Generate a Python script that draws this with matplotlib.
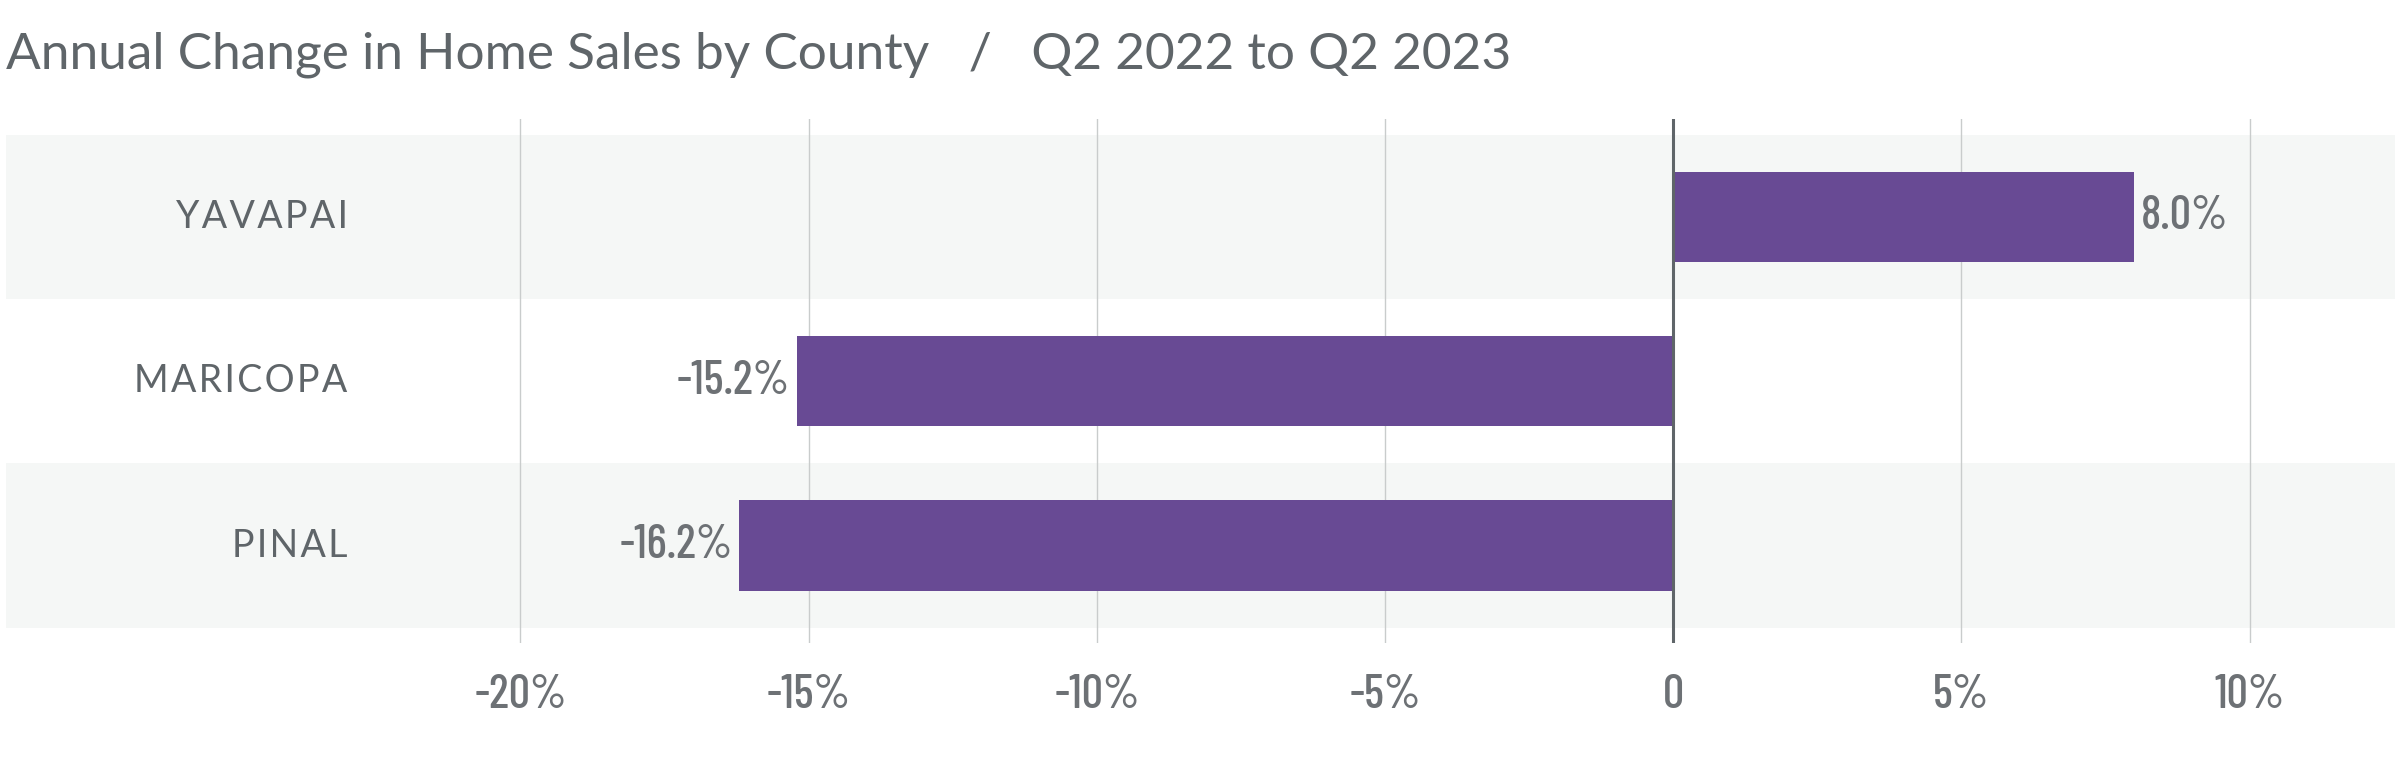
import matplotlib
matplotlib.use('Agg')
import matplotlib.pyplot as plt

counties = ['YAVAPAI', 'MARICOPA', 'PINAL']
change = [8.0, -15.2, -16.2]
value_labels = ['8.0%', '-15.2%', '-16.2%']
tick_values = [-20, -15, -10, -5, 0, 5, 10]
tick_labels = ['-20%', '-15%', '-10%', '-5%', '0', '5%', '10%']

text_gray = '#5f6569'
num_gray = '#6d7175'
bar_color = '#684a94'
band_color = '#f5f7f6'
num_font = ['Barlow Condensed', 'DejaVu Sans']

fig = plt.figure(figsize=(24, 7.65), dpi=100)
ax = fig.add_axes([0, 0.1595, 1, 0.6845])

ax.set_xlim(-29.03, 12.61)
ax.set_ylim(2.593, -0.593)

# alternating background bands
for i in range(len(counties)):
    if i % 2 == 0:
        ax.axhspan(i - 0.5, i + 0.5, xmin=0.0025, xmax=0.998, color=band_color, zorder=0, lw=0)

for t in tick_values:
    if t == 0:
        ax.axvline(0, color=text_gray, lw=2.2, zorder=3)
    else:
        ax.axvline(t, color='#c9cccc', lw=1.0, zorder=1)

ax.barh(range(len(counties)), change, height=0.55, color=bar_color, zorder=2)

for i, (v, lab) in enumerate(zip(change, value_labels)):
    if v >= 0:
        ax.text(v + 0.12, i, lab, ha='left', va='center', fontsize=34, fontweight=500,
                family=num_font, color=num_gray)
    else:
        ax.text(v - 0.12, i, lab, ha='right', va='center', fontsize=34, fontweight=500,
                family=num_font, color=num_gray)

for i, name in enumerate(counties):
    ax.text(-23.0, i, '\u200a'.join(name), ha='right', va='center', fontsize=27,
            family=['Lato', 'DejaVu Sans'], color=text_gray)

ax.set_xticks(tick_values)
ax.set_xticklabels(tick_labels, fontsize=34, fontweight=500, family=num_font, color=num_gray)
ax.tick_params(axis='x', length=0, pad=22)
ax.set_yticks([])
for s in ax.spines.values():
    s.set_visible(False)

fig.text(6 / 2400, 0.928, 'Annual Change in Home Sales by County   /   Q2 2022 to Q2 2023',
         ha='left', va='center', fontsize=37, family='Lato', color=text_gray)

fig.savefig('out.png', dpi=100, facecolor='white')
